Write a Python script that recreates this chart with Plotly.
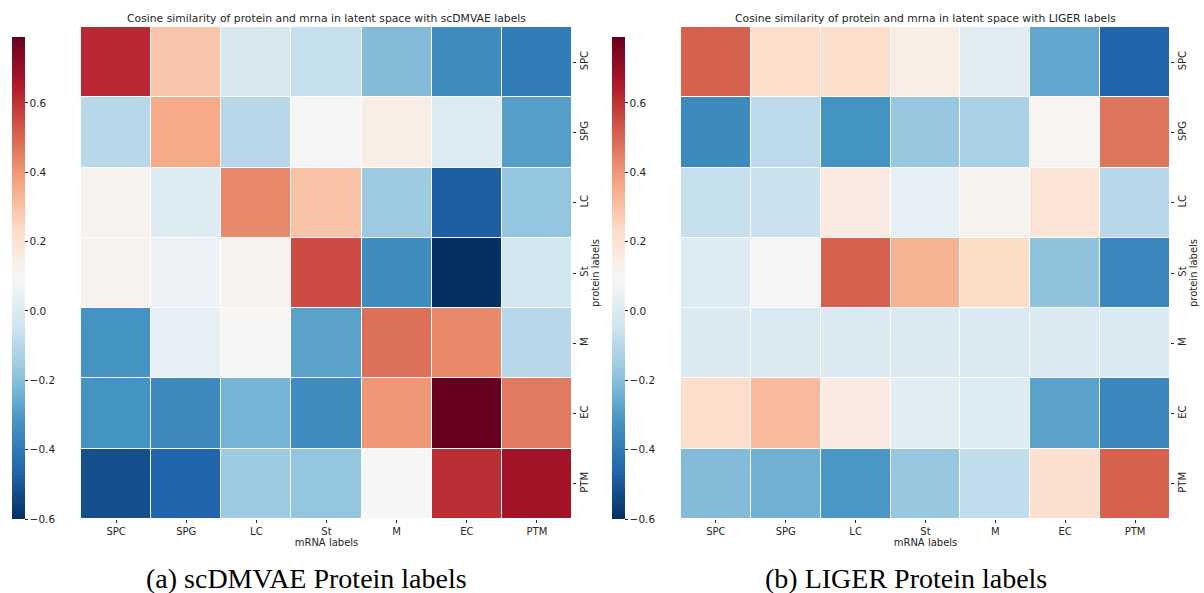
import plotly.graph_objects as go

# Cell-type labels shared by both panels
mrna_labels = ["SPC", "SPG", "LC", "St", "M", "EC", "PTM"]
protein_labels = ["SPC", "SPG", "LC", "St", "M", "EC", "PTM"]

# Cosine similarity, rows = protein labels, columns = mRNA labels
scdmvae_sim = [
    [0.62, 0.29, -0.02, -0.07, -0.21, -0.34, -0.39],
    [-0.10, 0.36, -0.10, 0.08, 0.15, 0.00, -0.29],
    [0.12, 0.00, 0.43, 0.30, -0.16, -0.48, -0.18],
    [0.12, 0.05, 0.12, 0.55, -0.34, -0.60, -0.04],
    [-0.32, 0.03, 0.10, -0.28, 0.48, 0.43, -0.10],
    [-0.32, -0.35, -0.23, -0.34, 0.40, 0.79, 0.46],
    [-0.52, -0.46, -0.16, -0.18, 0.09, 0.61, 0.68],
]

liger_sim = [
    [0.51, 0.22, 0.22, 0.15, 0.02, -0.27, -0.46],
    [-0.35, -0.09, -0.32, -0.17, -0.13, 0.11, 0.47],
    [-0.07, -0.06, 0.16, 0.03, 0.12, 0.19, -0.10],
    [0.00, 0.08, 0.51, 0.34, 0.23, -0.19, -0.36],
    [-0.01, -0.01, -0.01, -0.01, -0.01, -0.01, -0.01],
    [0.22, 0.32, 0.16, 0.02, 0.00, -0.28, -0.36],
    [-0.21, -0.24, -0.31, -0.17, -0.08, 0.21, 0.51],
]

panel_titles = [
    "Cosine similarity of protein and mrna in latent space with scDMVAE labels",
    "Cosine similarity of protein and mrna in latent space with LIGER labels",
]
captions = ["(a) scDMVAE Protein labels", "(b) LIGER Protein labels"]
cbar_ticks = [-0.6, -0.4, -0.2, 0.0, 0.2, 0.4, 0.6]

ZMIN, ZMAX = -0.6, 0.79

# RdBu reversed (diverging blue -> white -> red)
rdbu_r = [
    [0.0, "#053061"], [0.1, "#2166ac"], [0.2, "#4393c3"], [0.3, "#92c5de"],
    [0.4, "#d1e5f0"], [0.5, "#f7f7f7"], [0.6, "#fddbc7"], [0.7, "#f4a582"],
    [0.8, "#d6604d"], [0.9, "#b2182b"], [1.0, "#67001f"],
]

W, H = 1204, 593
FONT = "DejaVu Sans"
TXT = "#262626"

# pixel geometry of each panel: heatmap left/right edges, colorbar left edge
panels = [
    dict(x0=81, x1=572, cb=12),
    dict(x0=681, x1=1170, cb=612),
]
Y_TOP, Y_BOT = 27, 519

fig = go.Figure()
for i, (z, p) in enumerate(zip([scdmvae_sim, liger_sim], panels)):
    sfx = "" if i == 0 else str(i + 1)
    fig.add_trace(go.Heatmap(
        z=z, x=mrna_labels, y=protein_labels,
        xaxis="x" + sfx, yaxis="y" + sfx,
        colorscale=rdbu_r, zmin=ZMIN, zmax=ZMAX,
        xgap=1, ygap=1, hoverongaps=False,
        colorbar=dict(
            x=p["cb"] / W, xanchor="left", xref="paper",
            y=1 - 519 / H, yanchor="bottom", yref="paper",
            len=(519 - 37) / H, lenmode="fraction",
            thickness=13, thicknessmode="pixels",
            outlinewidth=0, xpad=0, ypad=0,
            tickvals=cbar_ticks, tickformat=".1f",
            ticks="outside", ticklen=3, tickwidth=1, tickcolor=TXT,
            tickfont=dict(family=FONT, size=10.5, color=TXT),
        ),
    ))
    dom_x = [p["x0"] / W, p["x1"] / W]
    dom_y = [1 - Y_BOT / H, 1 - Y_TOP / H]
    fig.layout["xaxis" + sfx] = dict(
        domain=dom_x, anchor="y" + sfx, showgrid=False, zeroline=False,
        ticks="outside", ticklen=3, tickcolor=TXT,
        tickfont=dict(family=FONT, size=10, color=TXT),
        title=dict(text="mRNA labels", font=dict(family=FONT, size=10, color=TXT), standoff=2),
        showline=False,
    )
    fig.layout["yaxis" + sfx] = dict(
        domain=dom_y, anchor="x" + sfx, side="right", autorange="reversed",
        showgrid=False, zeroline=False, ticks="outside", ticklen=3, tickcolor=TXT,
        tickangle=-90, tickfont=dict(family=FONT, size=10, color=TXT),
        title=dict(text="protein labels", font=dict(family=FONT, size=10, color=TXT), standoff=2),
        showline=False,
    )
    fig.add_annotation(
        text=panel_titles[i], xref="paper", yref="paper",
        x=(p["x0"] + p["x1"]) / 2 / W, y=1 - 18 / H,
        showarrow=False, xanchor="center", yanchor="middle",
        font=dict(family=FONT, size=10.8, color=TXT),
    )
    fig.add_annotation(
        text=captions[i], xref="paper", yref="paper",
        x=(p["x0"] + p["x1"]) / 2 / W - 20 / W, y=1 - 578 / H,
        showarrow=False, xanchor="center", yanchor="middle",
        font=dict(family="Liberation Serif", size=28, color="#000000"),
    )

fig.update_layout(
    width=W, height=H,
    margin=dict(l=0, r=0, t=0, b=0),
    paper_bgcolor="white", plot_bgcolor="white",
    showlegend=False,
)

fig.write_html("out.html")
